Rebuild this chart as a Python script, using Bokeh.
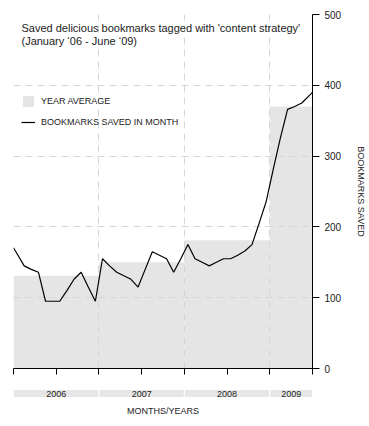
from bokeh.plotting import figure
from bokeh.models import ColumnDataSource, FixedTicker, Label, Legend, LegendItem, Range1d
from bokeh.layouts import column
from bokeh.core.properties import value
from bokeh.embed import file_html
from bokeh.resources import INLINE

FONT = "Liberation Sans"
TXT = "#222222"

# ---- data ----
years = ["2006", "2007", "2008", "2009"]
year_start = [0, 12, 24, 36]
year_end = [12, 24, 36, 42]
year_avg = [131, 150, 181, 370]

# monthly bookmarks, Jan 2006 .. Jun 2009 (42 months)
monthly = [162, 145, 140, 136, 95, 95, 95, 110, 126, 136, 115, 95,
           155, 145, 136, 131, 126, 115, 140, 165, 160, 155, 136, 155,
           175, 155, 150, 145, 150, 155, 155, 160, 166, 175, 205, 236,
           282, 326, 366, 370, 375, 385]
x_ticks = [0, 6, 12, 18, 24, 30, 36, 42]
y_ticks = [0, 100, 200, 300, 400, 500]

# line drawn at month midpoints, extended to the edges of the range
mids = [k + 0.5 for k in range(len(monthly))]
x_end = year_end[-1]
lx = [0] + mids + [x_end]
ly = ([monthly[0] - (monthly[1] - monthly[0]) * 0.5] + monthly +
      [monthly[-1] + (monthly[-1] - monthly[-2]) * 0.5])

BL, BR = 13, 55

p = figure(frame_width=299, frame_height=354,
           x_range=Range1d(0, x_end), y_range=Range1d(0, 500),
           y_axis_location="right", output_backend="svg", toolbar_location=None,
           min_border_left=BL, min_border_right=BR, min_border_top=14, min_border_bottom=11)
p.outline_line_color = None

bars = p.quad(left=year_start, right=year_end, bottom=0, top=year_avg,
              fill_color="#e5e5e5", line_color=None, level="image")
line = p.line(x=lx, y=ly, line_color="black", line_width=1.2)

# grids
p.xgrid.ticker = FixedTicker(ticks=year_start)
p.ygrid.ticker = FixedTicker(ticks=y_ticks)
for g in (p.xgrid, p.ygrid):
    g.grid_line_color = "#d6d6d6"
    g.grid_line_dash = "7 5"
    g.grid_line_width = 1

# x axis: ticks only
xa = p.xaxis[0]
xa.ticker = FixedTicker(ticks=x_ticks)
xa.major_tick_out = 6
xa.major_tick_in = 0
xa.minor_tick_line_color = None
xa.major_label_text_font_size = "1px"
xa.major_label_text_alpha = 0
xa.major_label_standoff = 0
xa.axis_line_color = "black"
xa.axis_line_width = 1
xa.major_tick_line_color = "black"
xa.major_tick_line_width = 1

ya = p.yaxis[0]
ya.ticker = FixedTicker(ticks=y_ticks)
ya.major_tick_out = 7
ya.major_tick_in = 0
ya.minor_tick_line_color = None
ya.axis_line_color = "black"
ya.major_tick_line_color = "black"
ya.major_label_text_font = FONT
ya.major_label_text_font_size = "10px"
ya.major_label_text_color = TXT
ya.major_label_standoff = 5
ya.axis_label = "BOOKMARKS SAVED"
ya.axis_label_text_font = FONT
ya.axis_label_text_font_size = "9px"
ya.axis_label_text_font_style = "normal"
ya.axis_label_text_color = TXT
ya.axis_label_standoff = 12

# title inside the plot
p.add_layout(Label(x=1.12, y=473, text="Saved delicious bookmarks tagged with 'content strategy'",
                   text_font=FONT, text_font_size="11px", text_color=TXT))
p.add_layout(Label(x=1.12, y=454, text="(January \u201806 - June \u201809)",
                   text_font=FONT, text_font_size="11px", text_color=TXT))

legend = Legend(items=[LegendItem(label="YEAR AVERAGE", renderers=[bars]),
                       LegendItem(label="BOOKMARKS SAVED IN MONTH", renderers=[line])],
                location=(8, 239), glyph_width=14, glyph_height=14, label_height=14,
                spacing=7, padding=0, margin=0, label_standoff=6,
                label_text_font=FONT, label_text_font_size="9px", label_text_color=TXT,
                background_fill_alpha=0, border_line_alpha=0)
p.add_layout(legend)

# ---- year band below ----
p2 = figure(frame_width=299, height=38, x_range=p.x_range, y_range=Range1d(38, 0),
            x_axis_location=None, y_axis_location=None,
            output_backend="svg", toolbar_location=None,
            min_border_left=BL, min_border_right=BR, min_border_top=0, min_border_bottom=0)
p2.outline_line_color = None
p2.grid.visible = False
p2.quad(left=year_start, right=year_end, top=10, bottom=18,
        fill_color="#e6e6e6", line_color="white", line_width=1)
year_mid = [(a + b) / 2 for a, b in zip(year_start, year_end)]
p2.text(x=year_mid, y=[14] * len(years), text=years, text_align="center",
        text_baseline="middle", text_font=value(FONT), text_font_size="9px", text_color=TXT)
p2.text(x=[x_end / 2], y=[31.5], text=["MONTHS/YEARS"], text_align="center",
        text_baseline="middle", text_font=value(FONT), text_font_size="9px", text_color=TXT)

layout = column(p, p2)
open("out.html", "w").write(file_html(layout, INLINE))
